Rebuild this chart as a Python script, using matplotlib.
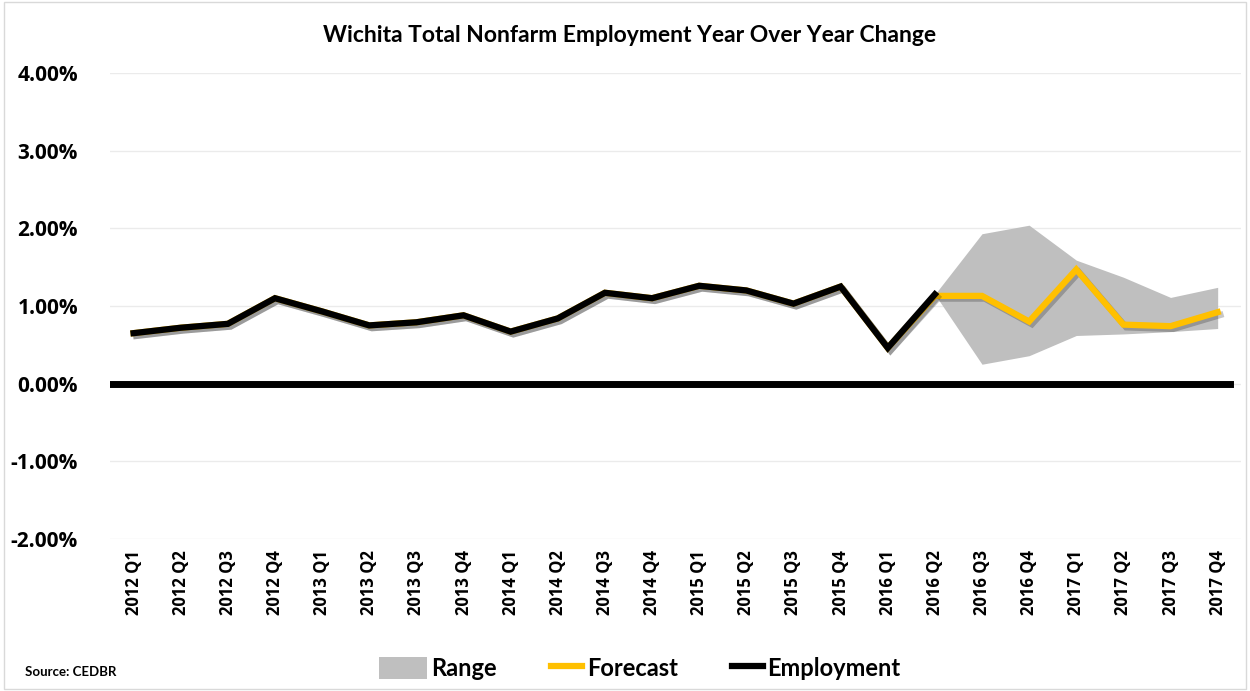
import matplotlib
matplotlib.use("Agg")
import matplotlib.pyplot as plt
import matplotlib.patheffects as pe
from matplotlib.patches import Patch, Rectangle
from matplotlib.lines import Line2D
from matplotlib.legend_handler import HandlerLine2D
from matplotlib.ticker import FuncFormatter
import numpy as np

categories = ["2012 Q1", "2012 Q2", "2012 Q3", "2012 Q4",
              "2013 Q1", "2013 Q2", "2013 Q3", "2013 Q4",
              "2014 Q1", "2014 Q2", "2014 Q3", "2014 Q4",
              "2015 Q1", "2015 Q2", "2015 Q3", "2015 Q4",
              "2016 Q1", "2016 Q2", "2016 Q3", "2016 Q4",
              "2017 Q1", "2017 Q2", "2017 Q3", "2017 Q4"]

employment = [0.65, 0.72, 0.77, 1.10, 0.93, 0.75, 0.79, 0.88, 0.67, 0.84,
              1.17, 1.10, 1.26, 1.20, 1.03, 1.25, 0.46, 1.15]

forecast = [0.65, 0.72, 0.77, 1.10, 0.93, 0.75, 0.79, 0.88, 0.67, 0.84,
            1.17, 1.10, 1.26, 1.20, 1.03, 1.25, 0.46, 1.13,
            1.13, 0.80, 1.47, 0.76, 0.74, 0.92]

range_start = 17  # 2016 Q2
range_upper = [1.15, 1.93, 2.04, 1.59, 1.37, 1.11, 1.24]
range_lower = [1.15, 0.25, 0.36, 0.62, 0.64, 0.67, 0.71]

yticks = [-2, -1, 0, 1, 2, 3, 4]

plt.rcParams['font.family'] = ['Open Sans', 'DejaVu Sans']


class ShortLine(HandlerLine2D):
    def get_xdata(self, legend, xdescent, ydescent, width, height, fontsize):
        xd = np.array([width * 0.35 - xdescent, width - xdescent])
        return xd, xd


fig = plt.figure(figsize=(12.5, 6.91), dpi=100)
ax = fig.add_axes([0.088, 0.22, 0.905, 0.6744])

x = np.arange(len(categories))
xr = x[range_start:range_start + len(range_upper)]

ax.fill_between(xr, range_lower, range_upper, color="#BFBFBF", linewidth=0, zorder=2)

shadow = [pe.SimpleLineShadow(offset=(2, -2), alpha=0.22, shadow_color="k"), pe.Normal()]

ax.plot(x, forecast, color="#FFC000", lw=4.5, solid_joinstyle="miter", zorder=3,
        path_effects=shadow)
ax.plot(x[:len(employment)], employment, color="black", lw=4.5, solid_joinstyle="miter",
        zorder=4, path_effects=shadow)

ax.axhline(0, color="black", lw=5, zorder=5, xmin=0, xmax=0.99)

ax.set_xlim(-0.5, len(categories) - 0.5)
ax.set_ylim(-2, 4)
ax.set_yticks(yticks)
ax.yaxis.set_major_formatter(FuncFormatter(lambda v, p: f"{v:.2f}%"))
ax.set_xticks(x)
ax.set_xticklabels(categories, rotation=90, fontsize=12, fontweight="bold")
for lab in ax.get_yticklabels():
    lab.set_fontsize(15)
    lab.set_fontweight("bold")
ax.tick_params(axis="both", length=0, pad=8)
ax.tick_params(axis="y", pad=23)
ax.grid(axis="y", color="#EBEBEB", lw=1, zorder=0)
ax.set_axisbelow(True)
for s in ax.spines.values():
    s.set_visible(False)

fig.text(0.504, 0.948, "Wichita Total Nonfarm Employment Year Over Year Change",
         ha="center", va="center", fontsize=16.5, fontweight="bold", family=["Lato", "DejaVu Sans"])
fig.text(0.02, 0.027, "Source: CEDBR", ha="left", va="center", fontsize=9.5,
         fontweight="bold", family=["Lato", "DejaVu Sans"])

forecast_handle = Line2D([0], [0], color="#FFC000", lw=4.5)
employment_handle = Line2D([0], [0], color="black", lw=4.5)
handles = [Patch(facecolor="#BFBFBF", edgecolor="none"), forecast_handle, employment_handle]
leg = fig.legend(handles, ["Range", "Forecast", "Employment"], loc="center",
                 bbox_to_anchor=(0.512, 0.033), ncol=3, frameon=False,
                 prop={"size": 17, "weight": "bold", "family": ["Lato", "DejaVu Sans"]},
                 handlelength=2.0, handleheight=1.1, handletextpad=0.2, columnspacing=1.6,
                 handler_map={forecast_handle: ShortLine(), employment_handle: ShortLine()})

fig.add_artist(Rectangle((0.003, 0.003), 0.994, 0.994, transform=fig.transFigure,
                         fill=False, edgecolor="#D9D9D9", lw=1))

fig.savefig("out.png", dpi=100)
